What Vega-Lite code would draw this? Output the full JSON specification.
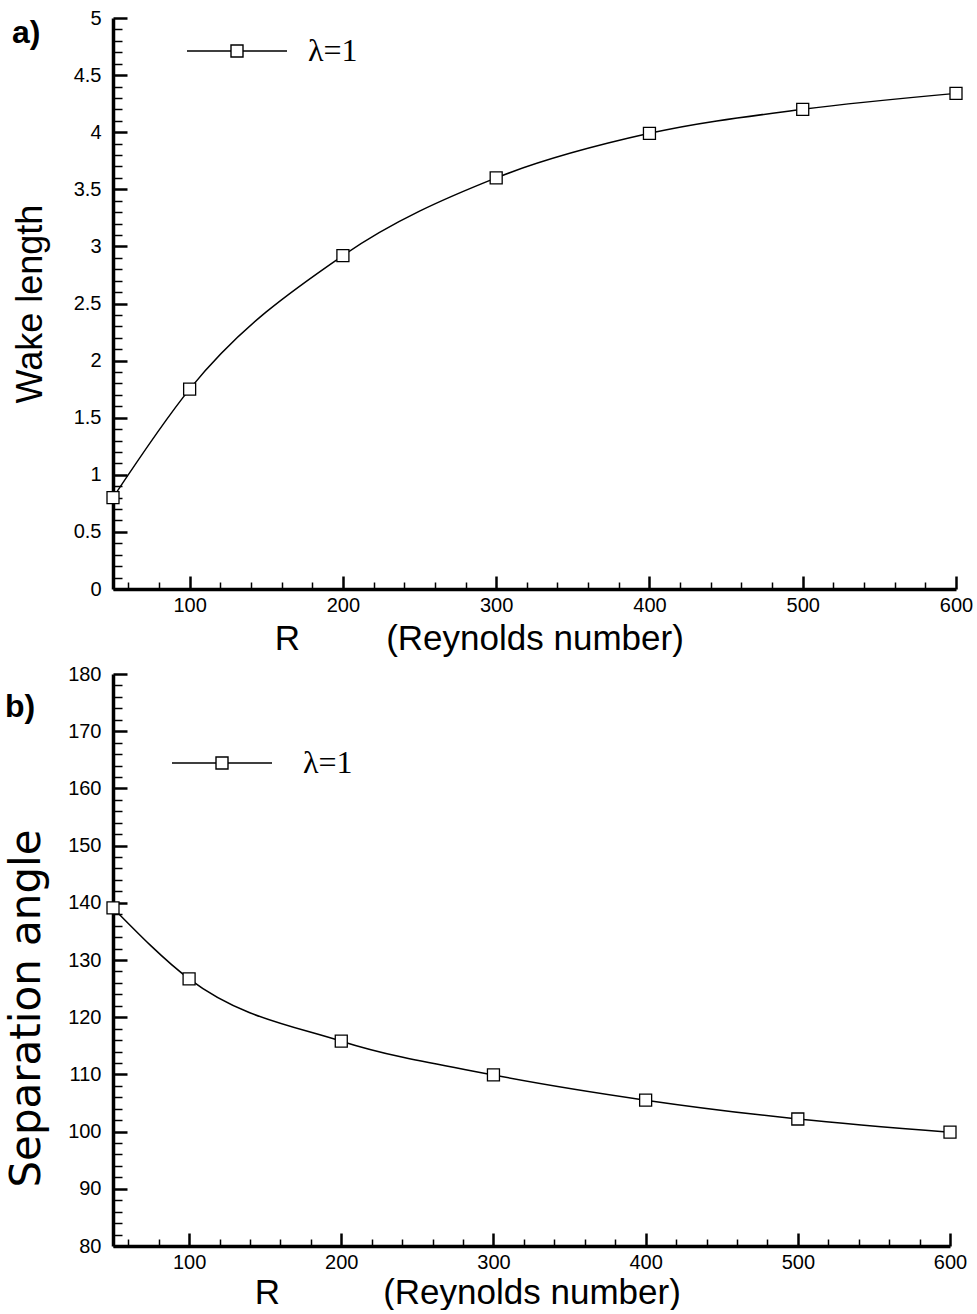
{
  "$schema": "https://vega.github.io/schema/vega-lite/v6.json",
  "background": "white",
  "padding": {"left": 5, "top": 0, "right": 10, "bottom": 0},
  "spacing": 8,
  "resolve": {"scale": {"color": "independent"}, "legend": {"color": "independent"}},
  "datasets": {
    "wake": [
      {"R": 50, "L": 0.8, "series": "λ=1"},
      {"R": 100, "L": 1.75, "series": "λ=1"},
      {"R": 200, "L": 2.92, "series": "λ=1"},
      {"R": 300, "L": 3.6, "series": "λ=1"},
      {"R": 400, "L": 3.99, "series": "λ=1"},
      {"R": 500, "L": 4.2, "series": "λ=1"},
      {"R": 600, "L": 4.34, "series": "λ=1"}
    ],
    "sep": [
      {"R": 50, "A": 139.1, "series": "λ=1"},
      {"R": 100, "A": 126.7, "series": "λ=1"},
      {"R": 200, "A": 115.8, "series": "λ=1"},
      {"R": 300, "A": 109.9, "series": "λ=1"},
      {"R": 400, "A": 105.5, "series": "λ=1"},
      {"R": 500, "A": 102.2, "series": "λ=1"},
      {"R": 600, "A": 99.9, "series": "λ=1"}
    ]
  },
  "config": {
    "view": {"stroke": null},
    "axis": {
      "grid": false,
      "labelFont": "Liberation Sans",
      "titleFont": "Liberation Sans",
      "labelColor": "black",
      "titleColor": "black",
      "tickColor": "black",
      "domainColor": "black",
      "titleFontWeight": "normal"
    }
  },
  "vconcat": [
    {
      "width": 843,
      "height": 571,
      "data": {"name": "wake"},
      "title": {"text": "a)", "anchor": "start", "fontSize": 32, "fontWeight": "bold", "font": "Liberation Sans", "color": "black", "dy": 50, "offset": 0},
      "layer": [
        {
          "mark": {"type": "line", "interpolate": "monotone", "color": "black", "strokeWidth": 1.5},
          "encoding": {
            "x": {"field": "R", "type": "quantitative", "scale": {"domain": [50, 600], "nice": false, "zero": false},
              "axis": {"orient": "bottom", "values": [100, 200, 300, 400, 500, 600], "tickSize": -13, "tickWidth": 2.5, "domainWidth": 3.5, "labelFontSize": 20, "labelPadding": 19, "labelFlush": false, "title": "(Reynolds number)", "titleFontSize": 35, "titleY": 60, "titleBaseline": "alphabetic"}},
            "y": {"field": "L", "type": "quantitative", "scale": {"domain": [0, 5], "nice": false, "zero": false},
              "axis": {"orient": "left", "values": [0, 0.5, 1, 1.5, 2, 2.5, 3, 3.5, 4, 4.5, 5], "format": "~g", "tickSize": -14, "tickWidth": 2.5, "domainWidth": 3.5, "labelFontSize": 20, "labelPadding": 26, "labelFlush": false, "title": "Wake length", "titleFontSize": 36, "titleX": -83, "titleBaseline": "middle"}},
            "color": {"field": "series", "type": "nominal", "scale": {"range": ["black"]},
              "legend": {"orient": "none", "legendX": 73, "legendY": -18, "title": null, "padding": 0,
                "symbolType": "M-1,0H-0.12M0.12,0H1M-0.12,-0.12H0.12V0.12H-0.12Z", "symbolSize": 10000, "symbolStrokeWidth": 1.4, "symbolFillColor": "white", "symbolStrokeColor": "black",
                "labelFont": "Liberation Serif", "labelFontSize": 32, "labelOffset": 20, "labelColor": "black"}}
          }
        },
        {
          "mark": {"type": "square", "size": 144, "fill": "white", "stroke": "black", "strokeWidth": 1.3, "opacity": 1},
          "encoding": {
            "x": {"field": "R", "type": "quantitative", "axis": null},
            "y": {"field": "L", "type": "quantitative", "axis": null}
          }
        },
        {
          "mark": {"type": "point", "opacity": 0},
          "encoding": {
            "x": {"field": "R", "type": "quantitative",
              "axis": {"orient": "bottom", "values": [60, 80, 120, 140, 160, 180, 220, 240, 260, 280, 320, 340, 360, 380, 420, 440, 460, 480, 520, 540, 560, 580], "tickSize": -7, "tickWidth": 1.5, "domain": false, "labels": false, "title": "R", "titleFontSize": 35, "titleX": 174, "titleY": 60, "titleBaseline": "alphabetic"}},
            "y": {"field": "L", "type": "quantitative",
              "axis": {"orient": "left", "values": [0.1, 0.2, 0.3, 0.4, 0.6, 0.7, 0.8, 0.9, 1.1, 1.2, 1.3, 1.4, 1.6, 1.7, 1.8, 1.9, 2.1, 2.2, 2.3, 2.4, 2.6, 2.7, 2.8, 2.9, 3.1, 3.2, 3.3, 3.4, 3.6, 3.7, 3.8, 3.9, 4.1, 4.2, 4.3, 4.4, 4.6, 4.7, 4.8, 4.9], "tickSize": -9, "tickWidth": 1.5, "domain": false, "labels": false, "title": null}}
          }
        }
      ],
      "resolve": {"axis": {"x": "independent", "y": "independent"}}
    },
    {
      "width": 837,
      "height": 572,
      "data": {"name": "sep"},
      "title": {"text": "b)", "anchor": "start", "fontSize": 32, "fontWeight": "bold", "font": "Liberation Sans", "color": "black", "dy": 60, "offset": 0},
      "layer": [
        {
          "mark": {"type": "line", "interpolate": "monotone", "color": "black", "strokeWidth": 1.5},
          "encoding": {
            "x": {"field": "R", "type": "quantitative", "scale": {"domain": [50, 600], "nice": false, "zero": false},
              "axis": {"orient": "bottom", "values": [100, 200, 300, 400, 500, 600], "tickSize": -13, "tickWidth": 2.5, "domainWidth": 3.5, "labelFontSize": 20, "labelPadding": 19, "labelFlush": false, "title": "(Reynolds number)", "titleFontSize": 35, "titleY": 57, "titleBaseline": "alphabetic"}},
            "y": {"field": "A", "type": "quantitative", "scale": {"domain": [80, 180], "nice": false, "zero": false},
              "axis": {"orient": "left", "values": [80, 90, 100, 110, 120, 130, 140, 150, 160, 170, 180], "tickSize": -14, "tickWidth": 2.5, "domainWidth": 3.5, "labelFontSize": 20, "labelPadding": 26, "labelFlush": false, "title": "Separation angle", "titleFont": "DejaVu Sans", "titleFontSize": 42, "titleX": -87, "titleY": 334, "titleBaseline": "middle"}},
            "color": {"field": "series", "type": "nominal", "scale": {"range": ["black"]},
              "legend": {"orient": "none", "legendX": 58, "legendY": 38, "title": null, "padding": 0,
                "symbolType": "M-1,0H-0.12M0.12,0H1M-0.12,-0.12H0.12V0.12H-0.12Z", "symbolSize": 10000, "symbolStrokeWidth": 1.4, "symbolFillColor": "white", "symbolStrokeColor": "black",
                "labelFont": "Liberation Serif", "labelFontSize": 32, "labelOffset": 30, "labelColor": "black"}}
          }
        },
        {
          "mark": {"type": "square", "size": 144, "fill": "white", "stroke": "black", "strokeWidth": 1.3, "opacity": 1},
          "encoding": {
            "x": {"field": "R", "type": "quantitative", "axis": null},
            "y": {"field": "A", "type": "quantitative", "axis": null}
          }
        },
        {
          "mark": {"type": "point", "opacity": 0},
          "encoding": {
            "x": {"field": "R", "type": "quantitative",
              "axis": {"orient": "bottom", "values": [60, 80, 120, 140, 160, 180, 220, 240, 260, 280, 320, 340, 360, 380, 420, 440, 460, 480, 520, 540, 560, 580], "tickSize": -7, "tickWidth": 1.5, "domain": false, "labels": false, "title": "R", "titleFontSize": 35, "titleX": 154, "titleY": 57, "titleBaseline": "alphabetic"}},
            "y": {"field": "A", "type": "quantitative",
              "axis": {"orient": "left", "values": [82, 84, 86, 88, 92, 94, 96, 98, 102, 104, 106, 108, 112, 114, 116, 118, 122, 124, 126, 128, 132, 134, 136, 138, 142, 144, 146, 148, 152, 154, 156, 158, 162, 164, 166, 168, 172, 174, 176, 178], "tickSize": -9, "tickWidth": 1.5, "domain": false, "labels": false, "title": null}}
          }
        }
      ],
      "resolve": {"axis": {"x": "independent", "y": "independent"}}
    }
  ]
}
